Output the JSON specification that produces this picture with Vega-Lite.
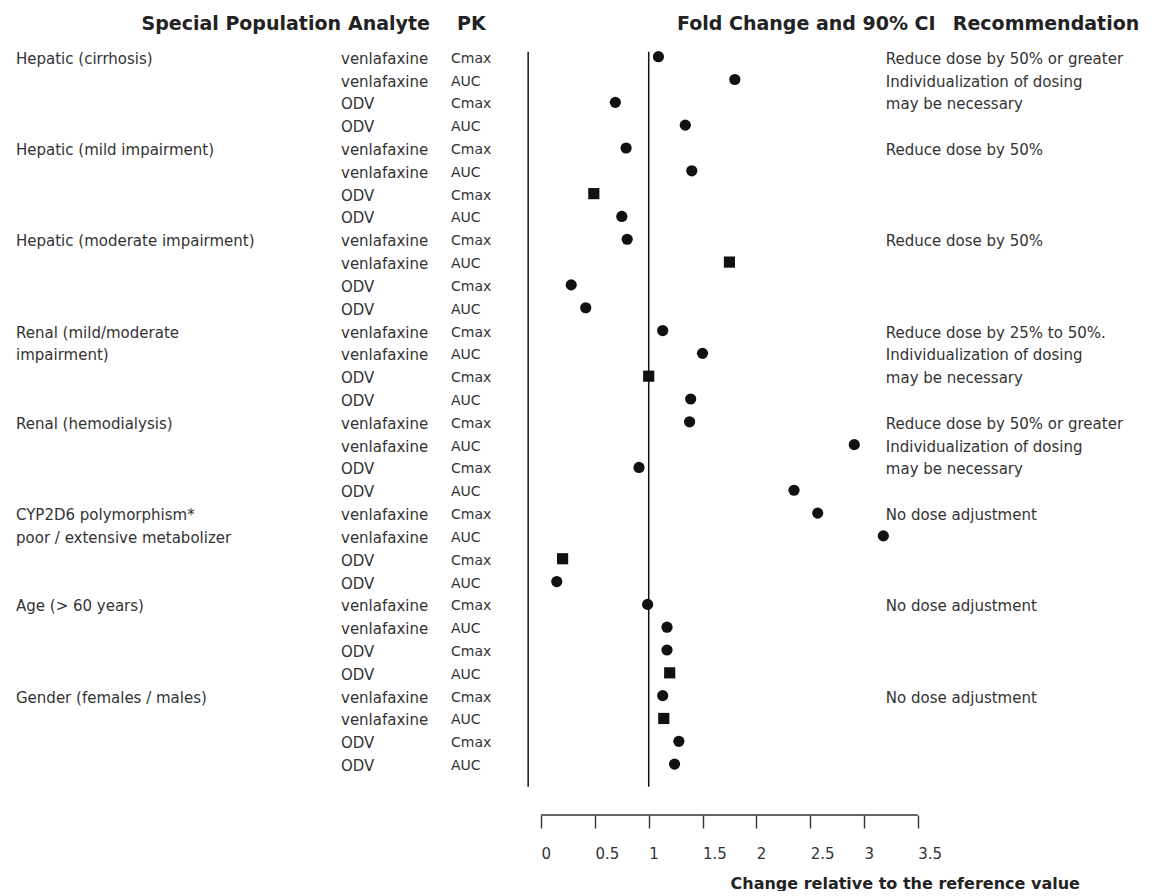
{
  "$schema": "https://vega.github.io/schema/vega-lite/v6.json",
  "background": "white",
  "padding": {"left": 16, "top": 0, "right": 0, "bottom": 0},
  "config": {"view": {"stroke": null}, "text": {"font": "DejaVu Sans"}},
  "spacing": 0,
  "datasets": {
    "table": [
      {"row": 1, "population": "Hepatic (cirrhosis)", "analyte": "venlafaxine", "pk": "Cmax", "fc": 1.09, "source": "A", "recommendation": "Reduce dose by 50% or greater"},
      {"row": 2, "population": "", "analyte": "venlafaxine", "pk": "AUC", "fc": 1.80, "source": "A", "recommendation": "Individualization of dosing"},
      {"row": 3, "population": "", "analyte": "ODV", "pk": "Cmax", "fc": 0.69, "source": "A", "recommendation": "may be necessary"},
      {"row": 4, "population": "", "analyte": "ODV", "pk": "AUC", "fc": 1.34, "source": "A", "recommendation": ""},
      {"row": 5, "population": "Hepatic (mild impairment)", "analyte": "venlafaxine", "pk": "Cmax", "fc": 0.79, "source": "A", "recommendation": "Reduce dose by 50%"},
      {"row": 6, "population": "", "analyte": "venlafaxine", "pk": "AUC", "fc": 1.40, "source": "A", "recommendation": ""},
      {"row": 7, "population": "", "analyte": "ODV", "pk": "Cmax", "fc": 0.49, "source": "B", "recommendation": ""},
      {"row": 8, "population": "", "analyte": "ODV", "pk": "AUC", "fc": 0.75, "source": "A", "recommendation": ""},
      {"row": 9, "population": "Hepatic (moderate impairment)", "analyte": "venlafaxine", "pk": "Cmax", "fc": 0.80, "source": "A", "recommendation": "Reduce dose by 50%"},
      {"row": 10, "population": "", "analyte": "venlafaxine", "pk": "AUC", "fc": 1.75, "source": "B", "recommendation": ""},
      {"row": 11, "population": "", "analyte": "ODV", "pk": "Cmax", "fc": 0.28, "source": "A", "recommendation": ""},
      {"row": 12, "population": "", "analyte": "ODV", "pk": "AUC", "fc": 0.415, "source": "A", "recommendation": ""},
      {"row": 13, "population": "Renal (mild/moderate", "analyte": "venlafaxine", "pk": "Cmax", "fc": 1.13, "source": "A", "recommendation": "Reduce dose by 25% to 50%."},
      {"row": 14, "population": "impairment)", "analyte": "venlafaxine", "pk": "AUC", "fc": 1.50, "source": "A", "recommendation": "Individualization of dosing"},
      {"row": 15, "population": "", "analyte": "ODV", "pk": "Cmax", "fc": 1.00, "source": "B", "recommendation": "may be necessary"},
      {"row": 16, "population": "", "analyte": "ODV", "pk": "AUC", "fc": 1.39, "source": "A", "recommendation": ""},
      {"row": 17, "population": "Renal (hemodialysis)", "analyte": "venlafaxine", "pk": "Cmax", "fc": 1.38, "source": "A", "recommendation": "Reduce dose by 50% or greater"},
      {"row": 18, "population": "", "analyte": "venlafaxine", "pk": "AUC", "fc": 2.91, "source": "A", "recommendation": "Individualization of dosing"},
      {"row": 19, "population": "", "analyte": "ODV", "pk": "Cmax", "fc": 0.91, "source": "A", "recommendation": "may be necessary"},
      {"row": 20, "population": "", "analyte": "ODV", "pk": "AUC", "fc": 2.35, "source": "A", "recommendation": ""},
      {"row": 21, "population": "CYP2D6 polymorphism*", "analyte": "venlafaxine", "pk": "Cmax", "fc": 2.57, "source": "A", "recommendation": "No dose adjustment"},
      {"row": 22, "population": "poor / extensive metabolizer", "analyte": "venlafaxine", "pk": "AUC", "fc": 3.18, "source": "A", "recommendation": ""},
      {"row": 23, "population": "", "analyte": "ODV", "pk": "Cmax", "fc": 0.20, "source": "B", "recommendation": ""},
      {"row": 24, "population": "", "analyte": "ODV", "pk": "AUC", "fc": 0.146, "source": "A", "recommendation": ""},
      {"row": 25, "population": "Age (> 60 years)", "analyte": "venlafaxine", "pk": "Cmax", "fc": 0.99, "source": "A", "recommendation": "No dose adjustment"},
      {"row": 26, "population": "", "analyte": "venlafaxine", "pk": "AUC", "fc": 1.17, "source": "A", "recommendation": ""},
      {"row": 27, "population": "", "analyte": "ODV", "pk": "Cmax", "fc": 1.17, "source": "A", "recommendation": ""},
      {"row": 28, "population": "", "analyte": "ODV", "pk": "AUC", "fc": 1.195, "source": "B", "recommendation": ""},
      {"row": 29, "population": "Gender (females / males)", "analyte": "venlafaxine", "pk": "Cmax", "fc": 1.13, "source": "A", "recommendation": "No dose adjustment"},
      {"row": 30, "population": "", "analyte": "venlafaxine", "pk": "AUC", "fc": 1.14, "source": "B", "recommendation": ""},
      {"row": 31, "population": "", "analyte": "ODV", "pk": "Cmax", "fc": 1.28, "source": "A", "recommendation": ""},
      {"row": 32, "population": "", "analyte": "ODV", "pk": "AUC", "fc": 1.24, "source": "A", "recommendation": ""}
    ]
  },
  "hconcat": [
    {
      "width": 325,
      "height": 815,
      "layer": [
        {
          "data": {"name": "table"},
          "mark": {"type": "text", "align": "left", "baseline": "middle", "fontSize": 15, "color": "#333", "dy": 2},
          "encoding": {
            "y": {"field": "row", "type": "quantitative", "scale": {"domain": [-1.485, 34.23], "reverse": true, "nice": false, "zero": false}, "axis": null},
            "x": {"value": 0},
            "text": {"field": "population"}
          }
        },
        {
          "data": {"values": [{"h": "Special Population"}]},
          "mark": {"type": "text", "align": "right", "baseline": "middle", "fontSize": 19, "fontWeight": "bold", "color": "#222"},
          "encoding": {
            "y": {"datum": -0.433, "type": "quantitative"},
            "x": {"value": "width"},
            "text": {"field": "h"}
          }
        }
      ]
    },
    {
      "width": 110,
      "height": 815,
      "layer": [
        {
          "data": {"name": "table"},
          "mark": {"type": "text", "align": "left", "baseline": "middle", "fontSize": 15, "color": "#333", "dy": 2},
          "encoding": {
            "y": {"field": "row", "type": "quantitative", "scale": {"domain": [-1.485, 34.23], "reverse": true, "nice": false, "zero": false}, "axis": null},
            "x": {"value": 0},
            "text": {"field": "analyte"}
          }
        },
        {
          "data": {"values": [{"h": "Analyte"}]},
          "mark": {"type": "text", "align": "left", "baseline": "middle", "fontSize": 19, "fontWeight": "bold", "color": "#222"},
          "encoding": {
            "y": {"datum": -0.433, "type": "quantitative"},
            "x": {"value": 7},
            "text": {"field": "h"}
          }
        }
      ]
    },
    {
      "width": 75,
      "height": 815,
      "layer": [
        {
          "data": {"name": "table"},
          "mark": {"type": "text", "align": "left", "baseline": "middle", "fontSize": 14, "color": "#333", "dy": 2},
          "encoding": {
            "y": {"field": "row", "type": "quantitative", "scale": {"domain": [-1.485, 34.23], "reverse": true, "nice": false, "zero": false}, "axis": null},
            "x": {"value": 0},
            "text": {"field": "pk"}
          }
        },
        {
          "data": {"values": [{"h": "PK"}]},
          "mark": {"type": "text", "align": "left", "baseline": "middle", "fontSize": 19, "fontWeight": "bold", "color": "#222"},
          "encoding": {
            "y": {"datum": -0.433, "type": "quantitative"},
            "x": {"value": 6},
            "text": {"field": "h"}
          }
        }
      ]
    },
    {
      "width": 634,
      "height": 815,
      "layer": [
        {
          "data": {"name": "table"},
          "mark": {"type": "point", "filled": true, "opacity": 1, "size": 125, "color": "#111", "strokeWidth": 0},
          "encoding": {
            "x": {
              "field": "fc", "type": "quantitative",
              "scale": {"domain": [-0.14, 5.75], "nice": false, "zero": false},
              "axis": {
                "values": [0, 0.5, 1, 1.5, 2, 2.5, 3, 3.5],
                "format": "~g",
                "domain": false,
                "grid": false,
                "tickSize": 13,
                "tickColor": "#333",
                "tickWidth": 1.4,
                "labelAlign": "left",
                "labelPadding": 18,
                "labelFont": "DejaVu Sans",
                "labelFontSize": 15,
                "labelColor": "#333",
                "labelFlush": false,
                "labelOverlap": false,
                "title": "Change relative to the reference value",
                "titleFont": "DejaVu Sans",
                "titleFontSize": 16,
                "titleFontWeight": "bold",
                "titleColor": "#222",
                "titleX": 204,
                "titleY": 68,
                "titleAlign": "left",
                "titleBaseline": "middle"
              }
            },
            "y": {"field": "row", "type": "quantitative", "scale": {"domain": [-1.485, 34.23], "reverse": true, "nice": false, "zero": false}, "axis": null},
            "shape": {"field": "source", "type": "nominal", "scale": {"domain": ["A", "B"], "range": ["circle", "square"]}, "legend": null}
          }
        },
        {
          "data": {"values": [{}]},
          "mark": {"type": "rule", "color": "#111", "strokeWidth": 1.5},
          "encoding": {"x": {"datum": 1}, "y": {"datum": 0.78}, "y2": {"datum": 32.99}}
        },
        {
          "data": {"values": [{}]},
          "mark": {"type": "rule", "color": "#111", "strokeWidth": 1.5},
          "encoding": {"x": {"datum": -0.12}, "y": {"datum": 0.78}, "y2": {"datum": 32.99}}
        },
        {
          "data": {"values": [{}]},
          "mark": {"type": "rule", "color": "#333", "strokeWidth": 1.5},
          "encoding": {"x": {"datum": 0}, "x2": {"datum": 3.5}, "y": {"datum": 34.23}}
        },
        {
          "data": {"name": "table"},
          "mark": {"type": "text", "align": "left", "baseline": "middle", "fontSize": 15, "color": "#333", "dy": 2},
          "encoding": {
            "x": {"datum": 3.203},
            "y": {"field": "row", "type": "quantitative"},
            "text": {"field": "recommendation"}
          }
        },
        {
          "data": {"values": [{"h": "Fold Change and 90% CI"}]},
          "mark": {"type": "text", "align": "left", "baseline": "middle", "fontSize": 19, "fontWeight": "bold", "color": "#222"},
          "encoding": {"x": {"datum": 1.263}, "y": {"datum": -0.433}, "text": {"field": "h"}}
        },
        {
          "data": {"values": [{"h": "Recommendation"}]},
          "mark": {"type": "text", "align": "left", "baseline": "middle", "fontSize": 19, "fontWeight": "bold", "color": "#222"},
          "encoding": {"x": {"datum": 3.825}, "y": {"datum": -0.433}, "text": {"field": "h"}}
        }
      ]
    }
  ]
}
